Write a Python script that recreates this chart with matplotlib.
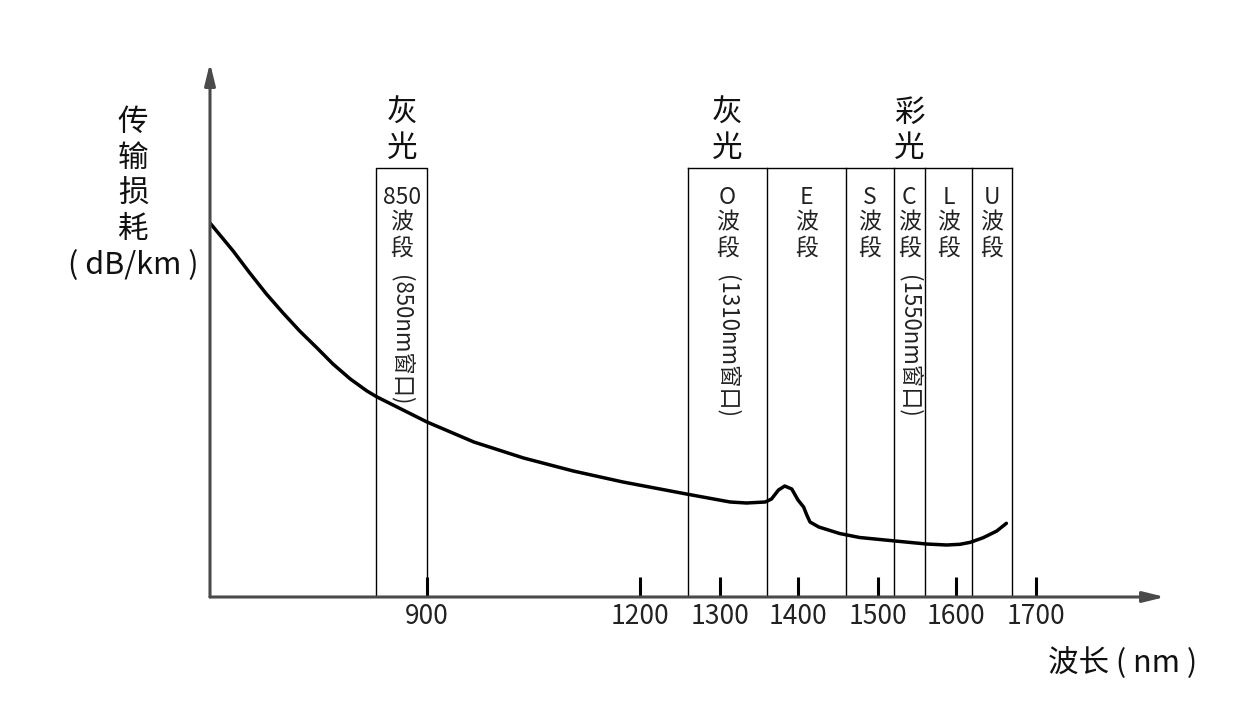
import numpy as np
import matplotlib
matplotlib.use("Agg")
import matplotlib.pyplot as plt

plt.rcParams['font.family'] = ['Noto Sans CJK SC', 'DejaVu Sans']

# ---------- data ----------
wavelength_nm = [600, 632, 655, 678, 701, 724, 748, 770, 794, 817, 831,
                 900, 966, 1036, 1106, 1176, 1258, 1275, 1313, 1334, 1358,
                 1366, 1375, 1383, 1392, 1400, 1407, 1411, 1415, 1426, 1440,
                 1452, 1477, 1522, 1562, 1588, 1605, 1618, 1634, 1651, 1663]
loss = [3.74, 3.46, 3.24, 3.03, 2.84, 2.66, 2.49, 2.33, 2.18, 2.06, 2.00,
        1.75, 1.55, 1.39, 1.26, 1.15, 1.03, 1.005, 0.95, 0.94, 0.95,
        0.98, 1.07, 1.11, 1.08, 0.97, 0.90, 0.82, 0.75, 0.70, 0.665,
        0.635, 0.595, 0.56, 0.53, 0.52, 0.527, 0.547, 0.593, 0.66, 0.737]

band_names = ['850', 'O', 'E', 'S', 'C', 'L', 'U']
band_lo = [830, 1260, 1360, 1460, 1520, 1560, 1620]
band_hi = [900, 1360, 1460, 1520, 1560, 1620, 1670]
band_notes = ['(850nm窗口)', '(1310nm窗口)', '', '', '(1550nm窗口)', '', '']

group_labels = ['灰\n光', '灰\n光', '彩\n光']
group_bands = ['850', 'O', 'C']

tick_nm = [900, 1200, 1300, 1400, 1500, 1600, 1700]

# schematic (uneven) wavelength axis: nm -> drawing position
scale_nm = [600, 900, 1200, 1300, 1400, 1500, 1600, 1700, 1862]
scale_pos = [210, 427, 640, 720, 798, 878, 956, 1036, 1165]


def warp(x, xp, fp):
    x = np.asarray(x, dtype=float)
    y = np.interp(x, xp, fp)
    lo = fp[0] + (x - xp[0]) * (fp[1] - fp[0]) / (xp[1] - xp[0])
    hi = fp[-1] + (x - xp[-1]) * (fp[-1] - fp[-2]) / (xp[-1] - xp[-2])
    y = np.where(x < xp[0], lo, y)
    y = np.where(x > xp[-1], hi, y)
    return y


def fwd(x):
    return warp(x, scale_nm, scale_pos)


def inv(x):
    return warp(x, scale_pos, scale_nm)


def mid(lo, hi):
    return float(inv((fwd(lo) + fwd(hi)) / 2))


BOX_TOP = 4.29
YMAX = 5.34

# ---------- figure ----------
fig = plt.figure(figsize=(12.4, 7.24), dpi=100)
ax = fig.add_axes([210 / 1240, 1 - 597 / 724, 955 / 1240, 534 / 724])
ax.set_xscale('function', functions=(fwd, inv))
ax.set_xlim(scale_nm[0], scale_nm[-1])
ax.set_ylim(0, YMAX)

for s in ax.spines.values():
    s.set_visible(False)
ax.set_yticks([])

# band boxes
ax.plot([band_lo[0], band_lo[0], band_hi[0], band_hi[0]],
        [0, BOX_TOP, BOX_TOP, 0], color='black', lw=1.0, zorder=2)
ax.plot([band_lo[1], band_hi[-1]], [BOX_TOP, BOX_TOP],
        color='black', lw=1.0, zorder=2)
for edge in band_lo[1:] + [band_hi[-1]]:
    ax.plot([edge, edge], [0, BOX_TOP], color='black', lw=1.0, zorder=2)

# band labels
for name, lo, hi, note in zip(band_names, band_lo, band_hi, band_notes):
    cx = mid(lo, hi)
    ax.text(cx, 4.11, name + '\n波\n段', ha='center', va='top',
            fontsize=16.5, linespacing=1.12, color='#222222')
    if note:
        ax.text(cx, 3.22, note, ha='center', va='top', rotation=-90,
                fontsize=16, color='#222222')

# 灰光 / 彩光
for label, band in zip(group_labels, group_bands):
    i = band_names.index(band)
    ax.text(mid(band_lo[i], band_hi[i]), 4.66, label, ha='center',
            va='center', fontsize=22, linespacing=1.15, color='#111111')

# attenuation curve
ax.plot(wavelength_nm, loss, color='black', lw=2.5, zorder=3,
        solid_joinstyle='round', solid_capstyle='round')

# axes with arrows
arrow = dict(arrowstyle='-|>,head_length=0.65,head_width=0.16',
             color='#4a4a4a', lw=2.2, shrinkA=0, shrinkB=0,
             mutation_scale=20)
ax.annotate('', xy=(1, 0), xytext=(0, 0), xycoords='axes fraction',
            arrowprops=arrow, zorder=4)
ax.annotate('', xy=(0, 1), xytext=(0, 0), xycoords='axes fraction',
            arrowprops=arrow, zorder=4)

ax.set_xticks(tick_nm)
ax.set_xticklabels([str(t) for t in tick_nm])
ax.xaxis.set_minor_locator(matplotlib.ticker.NullLocator())
ax.tick_params(axis='x', direction='in', length=14.5, width=2.2,
               color='black', labelsize=19, pad=4, labelcolor='#222222')

fig.text(133 / 1240, 1 - 194 / 724, '传\n输\n损\n耗\n( dB/km )',
         ha='center', va='center', fontsize=22, linespacing=1.2,
         color='#111111')
fig.text(1123 / 1240, 1 - 663 / 724, '波长 ( nm )', ha='center',
         va='center', fontsize=22, color='#111111')

fig.savefig('out.png', dpi=100)
